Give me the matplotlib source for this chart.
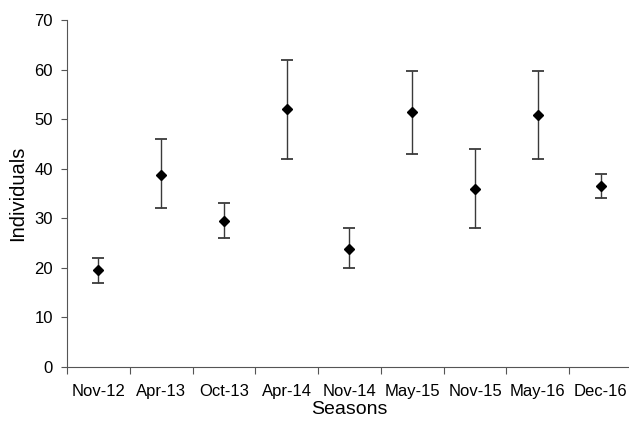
import numpy as np
import matplotlib.pyplot as plt

plt.rcParams['font.family'] = ['Liberation Sans', 'DejaVu Sans']

seasons = ['Nov-12', 'Apr-13', 'Oct-13', 'Apr-14', 'Nov-14', 'May-15', 'Nov-15', 'May-16', 'Dec-16']
mean = [19.5, 38.8, 29.4, 52.0, 23.9, 51.5, 36.0, 50.9, 36.5]
upper = [22.0, 46.0, 33.0, 62.0, 28.0, 59.8, 44.0, 59.8, 39.0]
lower = [17.0, 32.0, 26.0, 42.0, 20.0, 43.0, 28.0, 42.0, 34.0]

mean = np.array(mean)
yerr = [mean - np.array(lower), np.array(upper) - mean]
x = np.arange(len(seasons)) + 0.5

fig = plt.figure(figsize=(6.29, 4.21), dpi=100)
ax = fig.add_axes([67 / 629, 54 / 421, 565 / 629, 347 / 421])

ax.errorbar(x, mean, yerr=yerr, fmt='none', ecolor='#3a3a3a', elinewidth=1,
            capsize=4, capthick=1.3)
ax.plot(x, mean, 'D', color='black', markersize=5.5, zorder=3)

ax.set_xlim(0, 9)
ax.set_ylim(0, 70)
ax.set_yticks(np.arange(0, 71, 10))
ax.set_xticks(np.arange(0, 10))
ax.set_xticklabels([])
ax.set_xticks(x, minor=True)
ax.set_xticklabels(seasons, minor=True)
ax.tick_params(axis='x', which='major', direction='out', length=5, color='#555555')
ax.tick_params(axis='x', which='minor', length=0, pad=12, labelsize=12)
ax.tick_params(axis='y', direction='out', length=4, color='#555555', labelsize=12, pad=6)

for s in ['top', 'right']:
    ax.spines[s].set_visible(False)
for s in ['left', 'bottom']:
    ax.spines[s].set_color('#555555')

ax.set_ylabel('Individuals', fontsize=14.5, labelpad=5)
ax.set_xlabel('Seasons', fontsize=14, labelpad=2)

fig.savefig('out.png', dpi=100)
